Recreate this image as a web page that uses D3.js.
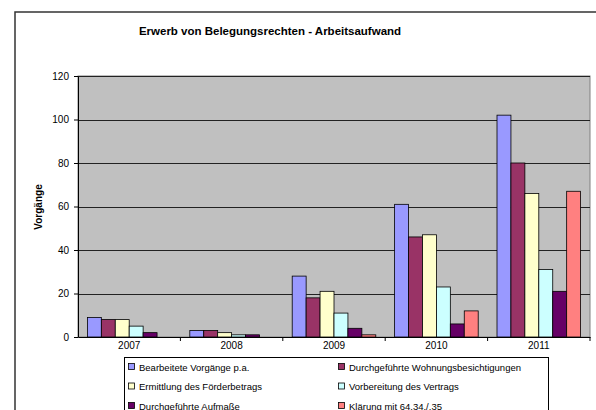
<!DOCTYPE html>
<html><head><meta charset="utf-8">
<script src="https://cdn.jsdelivr.net/npm/d3@7"></script>
<style>body{margin:0;background:#fff;}svg{display:block;font-family:Arial,"Liberation Sans",sans-serif;}</style>
</head><body>
<svg id="c" width="596" height="410"></svg>
<script>
const years = ["2007","2008","2009","2010","2011"];
const seriesNames = ["Bearbeitete Vorgänge p.a.","Durchgeführte Wohnungsbesichtigungen","Ermittlung des Förderbetrags","Vorbereitung des Vertrags","Durchgeführte Aufmaße","Klärung mit 64.34./.35"];
const bearbeitet = [9,3,28,61,102];
const besichtigungen = [8,3,18,46,80];
const foerderbetrag = [8,2,21,47,66];
const vertrag = [5,1,11,23,31];
const aufmasse = [2,1,4,6,21];
const klaerung = [0,0,1,12,67];
const yTicks = [0,20,40,60,80,100,120];
const colors = ["#9999FF","#993366","#FFFFCC","#CCFFFF","#660066","#FF8080"];
const values = [bearbeitet,besichtigungen,foerderbetrag,vertrag,aufmasse,klaerung];

const svg = d3.select("#c");
// outer frame
svg.append("rect").attr("x",15).attr("y",12).attr("width",640).attr("height",500)
  .attr("fill","#fff").attr("stroke","#333").attr("stroke-width",1.5);

const L=78,R=590,T=76,B=337;
const x0 = d3.scaleBand().domain(years).range([L,R]).paddingInner(0).paddingOuter(0);
const gapFrac = 1.35/7.35;
const y = d3.scaleLinear().domain([0,120]).range([B,T]);

svg.append("rect").attr("x",L).attr("y",T).attr("width",R-L).attr("height",B-T)
  .attr("fill","#C0C0C0").attr("stroke","#808080").attr("stroke-width",1);

// gridlines
svg.append("g").selectAll("line").data(yTicks.filter(d=>d>0)).join("line")
  .attr("x1",L).attr("x2",R).attr("y1",d=>Math.round(y(d))+0.5).attr("y2",d=>Math.round(y(d))+0.5)
  .attr("stroke","#222").attr("stroke-width",1);

// bars
const bw = x0.bandwidth()/7.35;
const off = x0.bandwidth()*gapFrac/2;
values.forEach((arr,si)=>{
  svg.append("g").selectAll("rect").data(arr.map((v,i)=>({v,yr:years[i]}))).join("rect")
    .filter(d=>d.v>0)
    .attr("x",d=>x0(d.yr)+off+si*bw)
    .attr("y",d=>y(d.v))
    .attr("width",bw)
    .attr("height",d=>B-y(d.v))
    .attr("fill",colors[si]).attr("stroke","#000").attr("stroke-width",0.8);
});

// y axis
const yAxis = d3.axisLeft(y).tickValues(yTicks).tickSize(4).tickSizeOuter(0).tickPadding(5);
const gy = svg.append("g").attr("transform",`translate(${L},0)`).call(yAxis);
gy.selectAll("text").attr("font-size","10px").attr("fill","#000").attr("font-family","Arial,'Liberation Sans',sans-serif");
gy.selectAll("line,path").attr("stroke","#000");

// x axis
const xAxis = d3.axisBottom(x0).tickSize(0).tickPadding(5);
const gx = svg.append("g").attr("transform",`translate(0,${B})`).call(xAxis);
gx.selectAll("text").attr("font-size","10px").attr("fill","#000").attr("font-family","Arial,'Liberation Sans',sans-serif");
gx.select("path").attr("stroke","#000");
gx.append("g").selectAll("line").data(years.slice(1).concat(["end"])).join("line")
  .attr("x1",d=>d==="end"?R:x0(d)).attr("x2",d=>d==="end"?R:x0(d))
  .attr("y1",0).attr("y2",4).attr("stroke","#000");

// title
svg.append("text").attr("x",270).attr("y",35).attr("text-anchor","middle")
  .attr("font-size","11.5px").attr("font-weight","bold").text("Erwerb von Belegungsrechten - Arbeitsaufwand");
// y label
svg.append("text").attr("transform","translate(42,207) rotate(-90)").attr("text-anchor","middle")
  .attr("font-size","10px").attr("font-weight","bold").text("Vorgänge");

// legend
svg.append("rect").attr("x",124.5).attr("y",357.5).attr("width",424).attr("height",80)
  .attr("fill","#fff").attr("stroke","#000").attr("stroke-width",1);
const lg = svg.append("g").selectAll("g").data(seriesNames).join("g")
  .attr("transform",(d,i)=>`translate(${i%2===0?128:338},${367+Math.floor(i/2)*19.5})`);
lg.append("rect").attr("x",0.5).attr("y",-3.5).attr("width",6).attr("height",6)
  .attr("fill",(d,i)=>colors[i]).attr("stroke","#000").attr("stroke-width",0.8);
lg.append("text").attr("x",11).attr("y",3.5).attr("font-size","9.5px").text(d=>d);
</script>
</body></html>
